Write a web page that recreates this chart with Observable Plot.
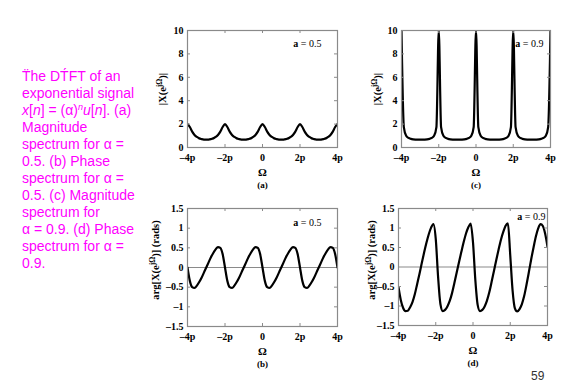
<!DOCTYPE html>
<html><head><meta charset="utf-8">
<script src="https://cdn.jsdelivr.net/npm/d3@7"></script>
<script src="https://cdn.jsdelivr.net/npm/@observablehq/plot@0.6"></script>
<style>
html,body{margin:0;padding:0;background:#fff;}
body{width:587px;height:385px;position:relative;overflow:hidden;font-family:"Liberation Sans",Arial,sans-serif;}
#caption{position:absolute;left:22px;top:68px;color:#f0f;font-size:14px;line-height:17px;white-space:nowrap;}
#caption sup{font-size:9px;vertical-align:5px;line-height:0;}
.panel{position:absolute;}
#page{position:absolute;left:531px;top:370px;font-size:12px;line-height:12px;color:#333;}
</style></head>
<body>
<div id="caption">T&#776;he DT&#769;FT of an<br>exponential signal<br><i>x</i>[<i>n</i>] = (&alpha;)<sup><i>n</i></sup><i>u</i>[<i>n</i>]. (a)<br>Magnitude<br>spectrum for &alpha; =<br>0.5. (b) Phase<br>spectrum for &alpha; =<br>0.5. (c) Magnitude<br>spectrum for<br>&alpha; = 0.9. (d) Phase<br>spectrum for &alpha; =<br>0.9.</div>
<div id="page">59</div>
<script>
// Frequency axis, in multiples of pi
const omega = [-4,-3.875,-3.75,-3.625,-3.5,-3.375,-3.25,-3.125,-3,-2.875,-2.75,-2.625,-2.5,-2.375,-2.25,-2.125,
  -2,-1.875,-1.75,-1.625,-1.5,-1.375,-1.25,-1.125,-1,-0.875,-0.75,-0.625,-0.5,-0.375,-0.25,-0.125,
  0,0.125,0.25,0.375,0.5,0.625,0.75,0.875,1,1.125,1.25,1.375,1.5,1.625,1.75,1.875,
  2,2.125,2.25,2.375,2.5,2.625,2.75,2.875,3,3.125,3.25,3.375,3.5,3.625,3.75,3.875,4];

// (a) |X| for a = 0.5
const magA05 = [2.0,1.75,1.36,1.07,0.9,0.78,0.72,0.68,0.67,0.68,0.72,0.78,0.9,1.07,1.36,1.75,
  2.0,1.75,1.36,1.07,0.9,0.78,0.72,0.68,0.67,0.68,0.72,0.78,0.9,1.07,1.36,1.75,
  2.0,1.75,1.36,1.07,0.9,0.78,0.72,0.68,0.67,0.68,0.72,0.78,0.9,1.07,1.36,1.75,
  2.0,1.75,1.36,1.07,0.9,0.78,0.72,0.68,0.67,0.68,0.72,0.78,0.9,1.07,1.36,1.75,2.0];

// (b) phase for a = 0.5
const phaseA05 = [0,-0.34,-0.50,-0.52,-0.46,-0.37,-0.26,-0.13,0,0.13,0.26,0.37,0.46,0.52,0.50,0.34,
  0,-0.34,-0.50,-0.52,-0.46,-0.37,-0.26,-0.13,0,0.13,0.26,0.37,0.46,0.52,0.50,0.34,
  0,-0.34,-0.50,-0.52,-0.46,-0.37,-0.26,-0.13,0,0.13,0.26,0.37,0.46,0.52,0.50,0.34,
  0,-0.34,-0.50,-0.52,-0.46,-0.37,-0.26,-0.13,0,0.13,0.26,0.37,0.46,0.52,0.50,0.34,0];

// (c) |X| for a = 0.9
const magA09 = [10,1.75,1.0,0.82,0.74,0.70,0.68,0.67,0.67,0.67,0.68,0.70,0.74,0.82,1.0,1.75,
  10,1.75,1.0,0.82,0.74,0.70,0.68,0.67,0.67,0.67,0.68,0.70,0.74,0.82,1.0,1.75,
  10,1.75,1.0,0.82,0.74,0.70,0.68,0.67,0.67,0.67,0.68,0.70,0.74,0.82,1.0,1.75,
  10,1.75,1.0,0.82,0.74,0.70,0.68,0.67,0.67,0.67,0.68,0.70,0.74,0.82,1.0,1.75,10];

// (d) phase for a = 0.9
const phaseA09 = [-0.52,-0.85,-1.05,-1.13,-1.12,-1.03,-0.90,-0.70,-0.44,-0.18,0.10,0.37,0.62,0.84,1.01,1.10,
  0.72,-0.25,-0.95,-1.13,-1.10,-1.01,-0.87,-0.67,-0.41,-0.14,0.13,0.39,0.64,0.86,1.02,1.11,
  0.63,-0.33,-0.97,-1.13,-1.10,-1.01,-0.86,-0.65,-0.38,-0.10,0.18,0.45,0.70,0.90,1.06,1.12,
  0.30,-0.60,-1.06,-1.14,-1.08,-0.95,-0.74,-0.45,-0.13,0.20,0.50,0.78,0.99,1.10,1.05,0.85,0.52];

const xTicks = [-4,-2,0,2,4];
const xTickLabels = ["\u20134p","\u20132p","0","2p","4p"];
const magTicks = [0,2,4,6,8,10];
const magTickLabels = ["0","2","4","6","8","10"];
const phaseTicks = [-1.5,-1,-0.5,0,0.5,1,1.5];
const phaseTickLabels = ["\u20131.5","\u20131","\u20130.5","0","0.5","1","1.5"];
const innerX = [-2,0,2];
const innerMag = [2,4,6,8];
const innerPhase = [-1,-0.5,0.5,1];

const GRAY = "#8a8a8a";
const SERIF = '"Liberation Serif","Times New Roman",serif';

function makePanel(cfg){
  const mL=50, mT=10, mR=10, mB=48;
  const W=cfg.w, H=cfg.h;
  const data = omega.map((w,i)=>({w, v: cfg.values[i]}));
  const svg = Plot.plot({
    width: W+mL+mR, height: H+mT+mB,
    marginLeft:mL, marginTop:mT, marginRight:mR, marginBottom:mB,
    x:{domain:[-4,4]},
    y:{domain:cfg.yDomain},
    style:{fontFamily:SERIF, fontSize:"10px", color:"#000", background:"transparent", overflow:"visible"},
    marks:[
      cfg.zero ? Plot.ruleY([0], {stroke:GRAY, strokeWidth:1.2}) : null,
      Plot.line(data, {x:"w", y:"v", curve:"monotone-x", stroke:"#000", strokeWidth:2.2, clip:true}),
      Plot.frame({stroke:GRAY, strokeWidth:1.2}),
      Plot.tickY(cfg.inner, {y:d=>d, insetRight:W-3, stroke:GRAY}),
      Plot.tickY(cfg.inner, {y:d=>d, insetLeft:W-3, stroke:GRAY}),
      Plot.tickX(innerX, {x:d=>d, insetBottom:H-3, stroke:GRAY}),
      Plot.tickX(innerX, {x:d=>d, insetTop:H-3, stroke:GRAY}),
      Plot.axisX(xTicks, {tickFormat:d=>xTickLabels[xTicks.indexOf(d)], tickSize:0, tickPadding:cfg.xPad, fontWeight:"bold", label:null}),
      Plot.axisY(cfg.yTicks, {tickFormat:d=>cfg.yLabels[cfg.yTicks.indexOf(d)], tickSize:0, tickPadding:4, fontWeight:"bold", label:null}),
      Plot.text(["\u03A9"], {frameAnchor:"bottom", dy:cfg.omegaDy, lineAnchor:"middle", fontWeight:"bold", fontSize:11}),
      Plot.text([cfg.letter], {frameAnchor:"bottom", dy:cfg.omegaDy+13, lineAnchor:"middle", fontWeight:"bold", fontSize:9}),
      Plot.text([cfg.alpha], {frameAnchor:"top-right", dx:cfg.aDx, dy:cfg.aDy, lineAnchor:"middle", textAnchor:"end", fontSize:10})
    ]
  });
  const sel = d3.select(svg);
  // bold "a" in the alpha annotation
  sel.selectAll("text").filter(function(){ return this.textContent === cfg.alpha; }).each(function(){
    const t = d3.select(this);
    const rest = cfg.alpha.slice(1);
    t.text(null);
    t.append("tspan").attr("font-weight","bold").text("a");
    t.append("tspan").text(rest);
  });
  // rotated y label with superscript
  const ox = cfg.left - mL, oy = cfg.top - mT;
  const lab = sel.append("text")
    .attr("transform", `translate(${cfg.labX - ox},${cfg.labY - oy}) rotate(-90)`)
    .attr("text-anchor","middle").attr("font-size","10.5px").attr("font-weight","bold").attr("fill","#000");
  lab.append("tspan").attr("dy","3.5").text(cfg.yPre);
  lab.append("tspan").attr("dy","-3.8").attr("font-size","7.5px").text("j\u03A9");
  lab.append("tspan").attr("dy","3.8").text(cfg.yPost);
  const div = document.createElement("div");
  div.className = "panel";
  div.style.left = ox + "px";
  div.style.top = oy + "px";
  div.appendChild(svg);
  document.body.appendChild(div);
}

makePanel({left:187, top:30, w:150, h:117, values:magA05, yDomain:[0,10], yTicks:magTicks, yLabels:magTickLabels,
  inner:innerMag, zero:false, xPad:6, omegaDy:25, letter:"(a)", alpha:"a = 0.5", aDx:-16, aDy:13,
  labX:162, labY:89, yPre:"|X(e", yPost:")|"});
makePanel({left:401, top:30, w:149, h:117, values:magA09, yDomain:[0,10], yTicks:magTicks, yLabels:magTickLabels,
  inner:innerMag, zero:false, xPad:6, omegaDy:25, letter:"(c)", alpha:"a = 0.9", aDx:-7, aDy:13,
  labX:377, labY:89, yPre:"|X(e", yPost:")|"});
makePanel({left:187, top:208, w:150, h:118, values:phaseA05, yDomain:[-1.5,1.5], yTicks:phaseTicks, yLabels:phaseTickLabels,
  inner:innerPhase, zero:true, xPad:6, omegaDy:24.5, letter:"(b)", alpha:"a = 0.5", aDx:-16, aDy:14,
  labX:155, labY:260, yPre:"arg[X(e", yPost:")] (rads)"});
makePanel({left:398, top:208, w:149, h:117, values:phaseA09, yDomain:[-1.5,1.5], yTicks:phaseTicks, yLabels:phaseTickLabels,
  inner:innerPhase, zero:true, xPad:6, omegaDy:24.5, letter:"(d)", alpha:"a = 0.9", aDx:-2, aDy:8,
  labX:371, labY:260, yPre:"arg[X(e", yPost:")] (rads)"});
</script>
</body></html>
